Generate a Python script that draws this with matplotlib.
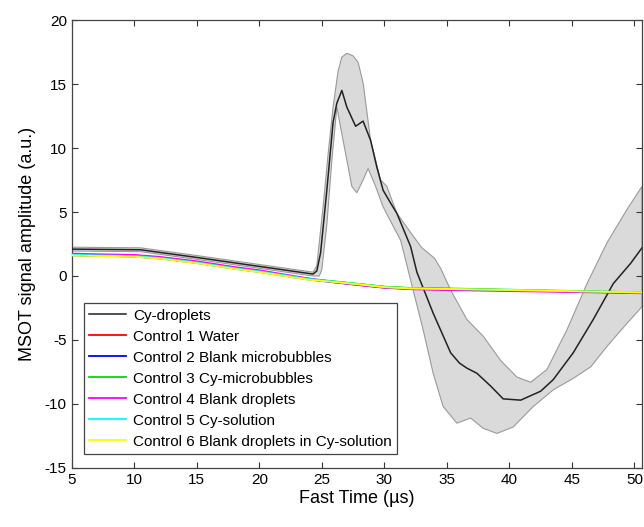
import numpy as np
import matplotlib
matplotlib.use('Agg')
import matplotlib.pyplot as plt

plt.rcParams['font.family'] = ['Liberation Sans', 'DejaVu Sans']
plt.rcParams['axes.unicode_minus'] = False

# Cy-droplets mean trace
mean_x = [5, 10.5, 15, 20, 24.3, 24.6, 24.9, 25.4, 25.9, 26.2, 26.6, 27.0, 27.7, 28.3,
          28.9, 29.4, 29.9, 30.5, 31.0, 32.1, 32.6, 33.9, 35.3, 36.0, 36.6, 37.4, 38.5,
          39.5, 40.9, 42.5, 43.5, 45.1, 46.7, 48.3, 49.7, 50.6]
mean_y = [2.1, 2.05, 1.45, 0.75, 0.15, 0.4, 1.8, 6.7, 12.0, 13.5, 14.5, 13.2, 11.7, 12.1,
          10.6, 8.5, 6.7, 5.7, 4.9, 2.3, 0.3, -2.9, -6.0, -6.8, -7.2, -7.6, -8.6,
          -9.6, -9.7, -9.0, -8.1, -6.0, -3.4, -0.6, 1.0, 2.2]

# upper / lower edge of the shaded band
upper_x = [5, 10.5, 15, 20, 24.3, 24.6, 25.1, 25.5, 25.9, 26.3, 26.6, 27.0, 27.5, 27.9,
           28.3, 28.9, 29.7, 30.2, 31.0, 32.1, 33.0, 34.0, 34.5, 35.3, 36.6, 37.9, 39.3,
           40.6, 41.7, 43.0, 44.6, 46.2, 47.8, 49.4, 50.6]
upper_y = [2.25, 2.2, 1.6, 0.9, 0.3, 0.8, 5.4, 9.5, 13.2, 16.0, 17.1, 17.4, 17.2, 16.7,
           15.1, 10.6, 7.5, 7.0, 4.9, 3.4, 2.2, 1.4, 0.6, -1.1, -3.4, -4.7, -6.6,
           -7.9, -8.3, -7.3, -4.2, -0.6, 2.6, 5.2, 7.0]
lower_x = [5, 10.5, 15, 20, 24.3, 24.8, 25.0, 25.4, 25.8, 26.2, 26.7, 27.4, 27.8, 28.3,
           28.7, 29.3, 29.9, 30.7, 31.3, 32.3, 33.1, 33.9, 34.7, 35.8, 36.9, 37.9, 39.0,
           40.3, 41.9, 43.5, 45.1, 46.5, 47.8, 49.4, 50.6]
lower_y = [1.95, 1.9, 1.3, 0.6, 0.0, 0.0, 0.5, 4.0, 9.0, 13.2, 10.6, 7.0, 6.5, 7.5,
           8.4, 7.0, 5.4, 3.9, 2.8, -1.1, -4.2, -7.6, -10.2, -11.5, -11.1, -11.9, -12.3,
           -11.8, -10.2, -8.9, -8.0, -7.1, -5.5, -3.7, -2.4]

# control traces
ctrl_x = [5, 7, 10, 12, 15, 18, 20, 22, 24, 26, 28, 30, 32, 35, 40, 45, 50.6]
ctrl_water = [1.65, 1.6, 1.55, 1.4, 1.05, 0.6, 0.35, 0.05, -0.25, -0.45, -0.65, -0.85, -0.95, -1.0, -1.1, -1.2, -1.3]
ctrl_blank_mb = [1.62, 1.58, 1.52, 1.38, 1.02, 0.58, 0.32, 0.02, -0.28, -0.5, -0.7, -0.9, -1.0, -1.05, -1.12, -1.22, -1.32]
ctrl_cy_mb = [1.7, 1.62, 1.57, 1.43, 1.08, 0.63, 0.38, 0.08, -0.22, -0.42, -0.62, -0.83, -0.93, -0.97, -1.07, -1.17, -1.27]
ctrl_blank_dr = [1.75, 1.7, 1.65, 1.5, 1.15, 0.7, 0.45, 0.12, -0.2, -0.48, -0.72, -0.92, -1.03, -1.1, -1.18, -1.25, -1.35]
ctrl_cy_sol = [1.66, 1.61, 1.56, 1.41, 1.06, 0.61, 0.36, 0.06, -0.24, -0.44, -0.64, -0.86, -0.96, -1.02, -1.1, -1.18, -1.29]
ctrl_blank_in_cy = [1.6, 1.56, 1.5, 1.36, 1.0, 0.56, 0.3, 0.0, -0.3, -0.47, -0.66, -0.87, -0.97, -1.01, -1.09, -1.19, -1.28]

labels = ['Cy-droplets', 'Control 1 Water', 'Control 2 Blank microbubbles',
          'Control 3 Cy-microbubbles', 'Control 4 Blank droplets',
          'Control 5 Cy-solution', 'Control 6 Blank droplets in Cy-solution']
ctrl_series = [ctrl_water, ctrl_blank_mb, ctrl_cy_mb, ctrl_blank_dr, ctrl_cy_sol, ctrl_blank_in_cy]
ctrl_colors = ['#ff0000', '#0000ff', '#00dd00', '#ff00ff', '#00ffff', '#ffff00']

fig = plt.figure(figsize=(6.44, 5.27), dpi=100)
ax = fig.add_axes([0.1113, 0.112, 0.8856, 0.85])

band_x = np.concatenate([upper_x, lower_x[::-1]])
band_y = np.concatenate([upper_y, lower_y[::-1]])
ax.fill(band_x, band_y, facecolor='#dadada', edgecolor='#9a9a9a', linewidth=0.8, zorder=1)

ax.plot(mean_x, mean_y, color='#222222', linewidth=1.1, label=labels[0], zorder=3)
for ys, c, lab in zip(ctrl_series, ctrl_colors, labels[1:]):
    ax.plot(ctrl_x, ys, color=c, linewidth=1.3, label=lab, zorder=4)

ax.set_xlim(5, 50.6)
ax.set_ylim(-15, 20)
ax.set_xticks(range(5, 51, 5))
ax.set_yticks(range(-15, 21, 5))
ax.tick_params(direction='in', top=True, right=True, length=4, width=0.8,
               labelsize=11, colors='#333333', labelcolor='black')
for s in ax.spines.values():
    s.set_color('#444444')
    s.set_linewidth(0.9)

ax.set_xlabel('Fast Time (µs)', fontsize=13, labelpad=2)
ax.set_ylabel('MSOT signal amplitude (a.u.)', fontsize=13, labelpad=6)

leg = ax.legend(loc='lower left', bbox_to_anchor=(0.0216, 0.031), borderaxespad=0,
                fontsize=11, fancybox=False, edgecolor='#444444', framealpha=1,
                handlelength=2.4, handletextpad=0.45, labelspacing=0.46,
                borderpad=0.35)
leg.get_frame().set_linewidth(0.9)

fig.savefig('out.png', dpi=100)
